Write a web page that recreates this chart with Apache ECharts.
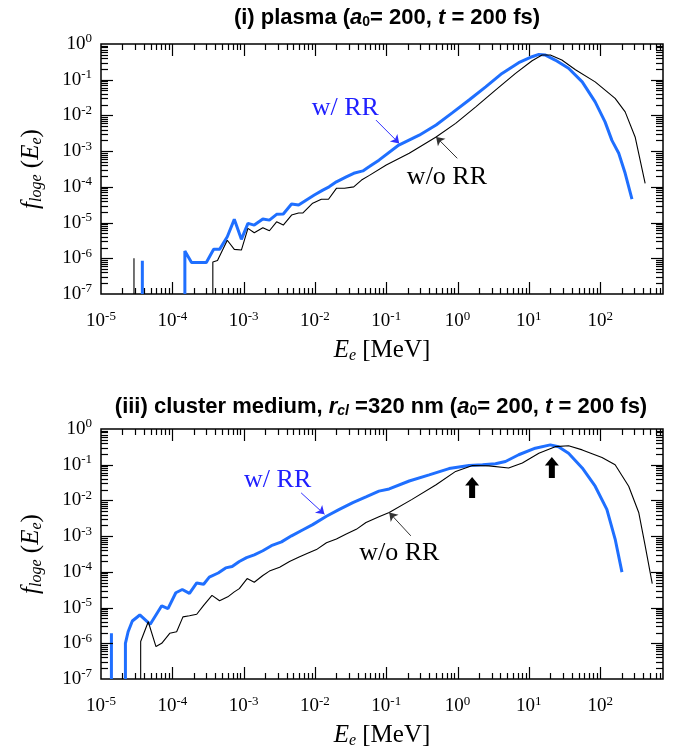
<!DOCTYPE html>
<html><head><meta charset="utf-8">
<script src="https://cdn.jsdelivr.net/npm/echarts@6/dist/echarts.min.js"></script>
<style>html,body{margin:0;padding:0;background:#fff}#c{width:674px;height:750px}</style>
</head><body><div id="c"></div>
<script>
// ---------- axis tick definitions ----------
const xTickExps = [-5, -4, -3, -2, -1, 0, 1, 2];
const yTickExps = [0, -1, -2, -3, -4, -5, -6, -7];
const xMin = 1e-5, xMax = 760, yMin = 1e-7, yMax = 1;

// ---------- (i) plasma ----------
const plasmaRR = [[1.5e-4,1e-7],[1.5e-4,1.6e-6],[1.86e-4,7.6e-7],[3.0e-4,7.6e-7],[3.8e-4,1.78e-6],[4.6e-4,1.78e-6],
 [5.9e-4,4.0e-6],[7.4e-4,1.23e-5],[9.3e-4,3.4e-6],[1.15e-3,9.5e-6],[1.41e-3,8.5e-6],[1.86e-3,1.26e-5],[2.3e-3,1.17e-5],
 [2.9e-3,1.7e-5],[3.6e-3,1.74e-5],[4.7e-3,3.3e-5],[5.9e-3,3.1e-5],[7.6e-3,4.3e-5],[9.8e-3,5.9e-5],[1.29e-2,8.1e-5],
 [1.58e-2,1.0e-4],[2.0e-2,1.38e-4],[2.75e-2,1.9e-4],[3.5e-2,2.4e-4],[4.7e-2,2.8e-4],[5.8e-2,3.7e-4],[7.9e-2,5.6e-4],
 [0.15,1.48e-3],[0.29,2.8e-3],[0.50,5.4e-3],[0.85,1.2e-2],[1.45,2.7e-2],[2.48,6.3e-2],[4.2,0.15],[7.2,0.30],[11.1,0.44],
 [13.8,0.51],[17.1,0.49],[23.4,0.355],[36,0.21],[56,8.7e-2],[85,2.4e-2],[117,6.6e-3],[146,2.0e-3],[182,8.7e-4],
 [224,2.4e-4],[279,4.5e-5]];
const plasmaNoRR = [[3.7e-4,1e-7],[3.7e-4,7.9e-7],[4.3e-4,8.7e-7],[5.9e-4,3.2e-6],[7.4e-4,1.78e-6],[9.3e-4,1.7e-6],
 [1.15e-3,6.9e-6],[1.41e-3,5.2e-6],[1.86e-3,7.2e-6],[2.3e-3,5.9e-6],[2.9e-3,1.05e-5],[3.6e-3,8.5e-6],[4.7e-3,1.62e-5],
 [5.9e-3,1.86e-5],[6.8e-3,1.86e-5],[9.3e-3,3.5e-5],[1.23e-2,4.5e-5],[1.55e-2,4.5e-5],[2.0e-2,9.1e-5],[2.6e-2,9.1e-5],
 [3.5e-2,1.0e-4],[4.5e-2,1.55e-4],[5.8e-2,2.1e-4],[0.10,4.1e-4],[0.21,8.7e-4],[0.50,2.5e-3],[0.94,6.0e-3],[1.8,1.74e-2],
 [3.4,5.1e-2],[6.5,0.15],[11.1,0.34],[15.3,0.49],[20,0.49],[29,0.355],[45,0.19],[85,8.7e-2],[162,3.0e-2],
 [224,1.26e-2],[309,2.5e-3],[427,1.26e-4]];
const plasmaRRSpikes = [[3.8e-5, 8.5e-7]];
const plasmaNoRRSpikes = [[2.9e-5, 1.0e-6]];

// ---------- (iii) cluster medium ----------
const clusterRR = [[2.2e-5,1e-7],[2.2e-5,1.0e-6],[2.4e-5,2.1e-6],[2.75e-5,4.2e-6],[3.5e-5,6.2e-6],[4.9e-5,3.4e-6],
 [7.1e-5,1.12e-5],[8.7e-5,9.3e-6],[1.12e-4,2.6e-5],[1.38e-4,3.2e-5],[1.74e-4,2.5e-5],[2.2e-4,4.9e-5],[2.75e-4,4.5e-5],
 [3.3e-4,7.1e-5],[4.4e-4,9.3e-5],[5.6e-4,1.29e-4],[6.9e-4,1.41e-4],[8.7e-4,1.95e-4],[1.1e-3,2.5e-4],[1.41e-3,3.0e-4],
 [1.86e-3,3.9e-4],[2.45e-3,5.4e-4],[3.4e-3,6.9e-4],[4.7e-3,1.02e-3],[6.8e-3,1.51e-3],[9.3e-3,2.1e-3],[1.45e-2,3.6e-3],
 [2.2e-2,5.6e-3],[3.4e-2,8.7e-3],[5.2e-2,1.26e-2],[7.9e-2,1.82e-2],[0.11,2.1e-2],[0.21,3.5e-2],[0.40,5.2e-2],
 [0.76,7.8e-2],[1.45,9.5e-2],[2.24,0.10],[3.4,0.107],[4.7,0.123],[7.2,0.19],[12.3,0.29],[20,0.36],[26,0.32],[36,0.21],
 [56,8.1e-2],[85,2.5e-2],[124,5.6e-3],[162,8.3e-4],[202,9.8e-5]];
const clusterNoRR = [[3.6e-5,1e-7],[3.6e-5,1.12e-6],[4.6e-5,4.0e-6],[5.9e-5,8.1e-7],[7.1e-5,1.0e-6],[9.2e-5,1.9e-6],
 [1.15e-4,2.1e-6],[1.41e-4,5.5e-6],[1.74e-4,5.9e-6],[2.2e-4,6.5e-6],[2.75e-4,1.15e-5],[3.6e-4,2.2e-5],[4.6e-4,1.55e-5],
 [6.0e-4,2.0e-5],[7.4e-4,2.75e-5],[8.7e-4,3.4e-5],[1.12e-3,6.5e-5],[1.41e-3,5.1e-5],[1.86e-3,7.9e-5],[2.3e-3,1.05e-4],
 [3.2e-3,1.35e-4],[4.4e-3,1.95e-4],[6.0e-3,2.6e-4],[7.9e-3,3.3e-4],[1.05e-2,4.2e-4],[1.45e-2,6.5e-4],[2.0e-2,8.3e-4],
 [2.75e-2,1.15e-3],[3.8e-2,1.55e-3],[5.2e-2,2.4e-3],[7.9e-2,3.5e-3],[0.11,4.6e-3],[0.23,1.07e-2],[0.50,2.75e-2],
 [0.94,6.5e-2],[1.62,9.5e-2],[2.75,9.3e-2],[5.2,8.1e-2],[8.1,0.112],[13.8,0.21],[23.4,0.32],[36,0.34],[56,0.26],
 [106,0.16],[162,0.10],[251,2.5e-2],[347,4.6e-3],[427,5.4e-4],[537,4.7e-5]];
const clusterRRSpikes = [[1.4e-5, 1.9e-6]];
const clusterNoRRSpikes = [];

// ---------- annotations (data-space anchors) ----------
const labelAnchors = [
  {panel: 0, text: 'w/ RR', color: '#2020ff', at: [0.0267, 0.0161]},
  {panel: 0, text: 'w/o RR', color: '#000000', at: [0.71, 1.9e-4]},
  {panel: 1, text: 'w/ RR', color: '#2020ff', at: [3.0e-3, 0.038]},
  {panel: 1, text: 'w/o RR', color: '#000000', at: [0.152, 3.4e-4]}
];
const pointerArrows = [
  {panel: 0, color: '#3030ff', from: [0.0718, 7.4e-3], to: [0.152, 1.65e-3]},
  {panel: 0, color: '#333333', from: [0.99, 6.3e-4], to: [0.50, 2.5e-3]},
  {panel: 1, color: '#3030ff', from: [6.4e-3, 0.0163], to: [0.0136, 4.1e-3]},
  {panel: 1, color: '#333333', from: [0.221, 1.02e-3], to: [0.110, 4.6e-3]}
];
const bumpMarkers = [[1.6, 0.023], [21, 0.083]];

const BLUE = '#1f6fff';
const SERIF = 'Liberation Serif';
const SANS = 'Liberation Sans';

function powLabel(v) {
  const l = Math.log10(v), e = Math.round(l);
  if (Math.abs(l - e) > 1e-6) return '';
  return '{b|10}{s|' + e + '}';
}
const powRich = {
  b: {fontSize: 19, fontFamily: SERIF, color: '#000', lineHeight: 23},
  s: {fontSize: 13, fontFamily: SERIF, color: '#000', lineHeight: 13, verticalAlign: 'top'}
};
const nameRich = {
  i: {fontSize: 25, fontFamily: SERIF, fontStyle: 'italic', lineHeight: 28, color: '#000'},
  sub: {fontSize: 16, fontFamily: SERIF, fontStyle: 'italic', verticalAlign: 'bottom', lineHeight: 19, color: '#000'},
  n: {fontSize: 25, fontFamily: SERIF, lineHeight: 28, color: '#000'}
};

const grids = [
  {left: 101, top: 44, width: 562, height: 250},
  {left: 101, top: 429, width: 562, height: 252}
].map(g => Object.assign({show: true, borderColor: '#000', borderWidth: 1.5, backgroundColor: 'transparent'}, g));

const xAxes = [0, 1].map(i => ({
  type: 'log', logBase: 10, gridIndex: i, min: xMin, max: xMax, splitNumber: 8,
  axisLine: {show: false}, axisTick: {show: false}, splitLine: {show: false}, minorTick: {show: false},
  axisLabel: {formatter: powLabel, rich: powRich, margin: 16, showMaxLabel: false},
  name: '{i|E}{sub|e}{n| [MeV]}', nameLocation: 'middle', nameGap: 42,
  nameTextStyle: {color: '#000', rich: nameRich}
}));
const yAxes = [0, 1].map(i => ({
  type: 'log', logBase: 10, gridIndex: i, min: yMin, max: yMax, splitNumber: 7,
  axisLine: {show: false}, axisTick: {show: false}, splitLine: {show: false}, minorTick: {show: false},
  axisLabel: {formatter: powLabel, rich: powRich, margin: 9},
  name: '{i|f}{sub|loge}{n| (}{i|E}{sub|e}{n|)}', nameLocation: 'middle', nameGap: 56, nameRotate: 90,
  nameTextStyle: {color: '#000', rich: nameRich}
}));

// tick marks (all four sides, pointing inward) through the axes' scales
function tickData() {
  const d = [];
  xTickExps.forEach(e => {
    const b = Math.pow(10, e);
    if (b > xMin && b < xMax) d.push([b, 1e-3, 0]);
    for (let m = 2; m <= 9; m++) { const v = m * b; if (v > xMin && v < xMax) d.push([v, 1e-3, 1]); }
  });
  yTickExps.forEach(e => {
    const b = Math.pow(10, e);
    if (b > yMin && b < yMax) d.push([1, b, 2]);
    for (let m = 2; m <= 9; m++) { const v = m * b; if (v > yMin && v < yMax) d.push([1, v, 3]); }
  });
  return d;
}
function renderTick(params, api) {
  const cs = params.coordSys;
  const kind = api.value(2);
  const st = {stroke: '#000', lineWidth: 1.2};
  if (kind < 2) {
    const px = Math.round(api.coord([api.value(0), 1e-3])[0]) + 0.5;
    const len = kind === 0 ? 12 : 6;
    const yb = cs.y + cs.height, yt = cs.y;
    return {type: 'group', children: [
      {type: 'line', shape: {x1: px, y1: yb, x2: px, y2: yb - len}, style: st},
      {type: 'line', shape: {x1: px, y1: yt, x2: px, y2: yt + len}, style: st}
    ]};
  } else {
    const py = Math.round(api.coord([1, api.value(1)])[1]) + 0.5;
    const len = kind === 2 ? 12 : 7;
    const xl = cs.x, xr = cs.x + cs.width;
    return {type: 'group', children: [
      {type: 'line', shape: {x1: xl, y1: py, x2: xl + len, y2: py}, style: st},
      {type: 'line', shape: {x1: xr, y1: py, x2: xr - len, y2: py}, style: st}
    ]};
  }
}

const panels = [
  {rr: plasmaRR, norr: plasmaNoRR, rrS: plasmaRRSpikes, norrS: plasmaNoRRSpikes},
  {rr: clusterRR, norr: clusterNoRR, rrS: clusterRRSpikes, norrS: clusterNoRRSpikes}
];

const series = [];
panels.forEach((p, i) => {
  series.push({type: 'custom', xAxisIndex: i, yAxisIndex: i, data: tickData(), renderItem: renderTick,
    encode: {x: 0, y: 1}, silent: true, z: 5, clip: false});
  p.rrS.forEach(s => series.push({type: 'line', xAxisIndex: i, yAxisIndex: i, showSymbol: false, silent: true,
    data: [[s[0], yMin], s], lineStyle: {color: BLUE, width: 3}, z: 2}));
  p.norrS.forEach(s => series.push({type: 'line', xAxisIndex: i, yAxisIndex: i, showSymbol: false, silent: true,
    data: [[s[0], yMin], s], lineStyle: {color: '#000', width: 1.1}, z: 3}));
  const lbl = labelAnchors.filter(a => a.panel === i);
  const arr = pointerArrows.filter(a => a.panel === i);
  const mkLabel = a => ({coord: a.at, value: a.text, label: {color: a.color}});
  const mkArrow = a => [{coord: a.from, lineStyle: {color: a.color}}, {coord: a.to}];
  series.push({type: 'line', xAxisIndex: i, yAxisIndex: i, showSymbol: false, silent: true, data: p.rr,
    lineStyle: {color: BLUE, width: 3}, z: 2,
    markPoint: {symbol: 'circle', symbolSize: 0, silent: true, animation: false,
      label: {show: true, position: 'inside', formatter: '{c}', fontSize: 26, fontFamily: SERIF},
      data: lbl.filter(a => a.color !== '#000000').map(mkLabel)},
    markLine: {symbol: ['none', 'arrow'], symbolSize: 8, silent: true, animation: false, label: {show: false},
      lineStyle: {width: 1, type: 'solid'}, data: arr.filter(a => a.color === '#3030ff').map(mkArrow)}
  });
  const blackMarks = lbl.filter(a => a.color === '#000000').map(mkLabel);
  if (i === 1) bumpMarkers.forEach(b => blackMarks.push({coord: b, symbol: 'path://M7,0 L14,8 L10,8 L10,20 L4,20 L4,8 L0,8 Z',
    symbolSize: [14, 21], itemStyle: {color: '#000'}, label: {show: false}}));
  series.push({type: 'line', xAxisIndex: i, yAxisIndex: i, showSymbol: false, silent: true, data: p.norr,
    lineStyle: {color: '#000', width: 1.1}, z: 3,
    markPoint: {symbol: 'circle', symbolSize: 0, silent: true, animation: false,
      label: {show: true, position: 'inside', formatter: '{c}', fontSize: 26, fontFamily: SERIF, color: '#000'},
      data: blackMarks},
    markLine: {symbol: ['none', 'arrow'], symbolSize: 8, silent: true, animation: false, label: {show: false},
      lineStyle: {width: 1, type: 'solid'}, data: arr.filter(a => a.color !== '#3030ff').map(mkArrow)}
  });
});

const titleRich = {
  b: {fontSize: 22, fontWeight: 'bold', fontFamily: SANS, color: '#000'},
  bi: {fontSize: 22, fontWeight: 'bold', fontStyle: 'italic', fontFamily: SANS, color: '#000'},
  bs: {fontSize: 14, fontWeight: 'bold', fontFamily: SANS, color: '#000', verticalAlign: 'bottom', lineHeight: 14},
  bsi: {fontSize: 14, fontWeight: 'bold', fontStyle: 'italic', fontFamily: SANS, color: '#000', verticalAlign: 'bottom', lineHeight: 14}
};

const chart = echarts.init(document.getElementById('c'), null, {renderer: 'canvas'});
chart.setOption({
  animation: false,
  backgroundColor: '#fff',
  grid: grids, xAxis: xAxes, yAxis: yAxes, series: series,
  graphic: [
    {type: 'text', x: 387, y: 18, style: {text: '{b|(i) plasma (}{bi|a}{bs|0}{b|= 200, }{bi|t}{b| = 200 fs)}',
      rich: titleRich, align: 'center', verticalAlign: 'middle'}},
    {type: 'text', x: 381, y: 407, style: {text: '{b|(iii) cluster medium, }{bi|r}{bsi|cl}{b| =320 nm (}{bi|a}{bs|0}{b|= 200, }{bi|t}{b| = 200 fs)}',
      rich: titleRich, align: 'center', verticalAlign: 'middle'}}
  ]
});
</script></body></html>
